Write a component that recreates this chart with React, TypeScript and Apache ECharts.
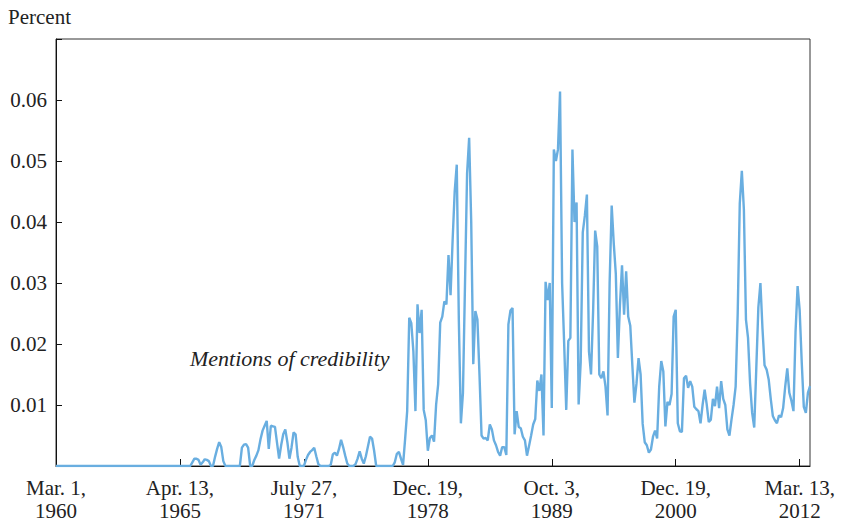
import React, { useEffect, useRef } from "react";
import * as echarts from "echarts";

// Tick labels at every 60th meeting
const tickLabels = [
  "Mar. 1,\n1960",
  "Apr. 13,\n1965",
  "July 27,\n1971",
  "Dec. 19,\n1978",
  "Oct. 3,\n1989",
  "Dec. 19,\n2000",
  "Mar. 13,\n2012",
];
const tickEvery = 60;

// Mentions of credibility (percent), by meeting, in six segments
const seg1960 = [
  0, 0, 0, 0, 0, 0, 0, 0, 0, 0, 0, 0, 0, 0, 0, 0, 0, 0, 0, 0,
  0, 0, 0, 0, 0, 0, 0, 0, 0, 0, 0, 0, 0, 0, 0, 0, 0, 0, 0, 0,
  0, 0, 0, 0, 0, 0, 0, 0, 0, 0, 0, 0, 0, 0, 0, 0, 0, 0, 0, 0,
];
const seg1965 = [
  0, 0, 0, 0, 0, 0, 0.0006, 0.0012, 0.0012, 0.001,
  0.0002, 0.0006, 0.0011, 0.001, 0.0008, 0, 0, 0.0015, 0.0028, 0.0039,
  0.0031, 0.0008, 0, 0, 0, 0, 0, 0, 0, 0,
  0.003, 0.0035, 0.0036, 0.003, 0, 0, 0.001, 0.0017, 0.0026, 0.0044,
  0.0058, 0.0066, 0.0074, 0.0028, 0.0066, 0.0065, 0.0064, 0.0038, 0.0012, 0.0034,
  0.0052, 0.006, 0.0039, 0.0012, 0.003, 0.0055, 0.0052, 0.0015, 0, 0,
];
const seg1971 = [
  0, 0.001, 0.0018, 0.0023, 0.0026, 0.003, 0.0016, 0.0003, 0, 0,
  0, 0, 0, 0.0002, 0.0019, 0.0022, 0.0017, 0.0028, 0.0043, 0.0031,
  0.0017, 0.0004, 0, 0, 0, 0.0003, 0.0012, 0.0024, 0.0012, 0.0004,
  0.0016, 0.0032, 0.0048, 0.0045, 0.0025, 0, 0, 0, 0, 0,
  0, 0, 0, 0, 0.0006, 0.002, 0.0023, 0.0012, 0.0002, 0.0044,
  0.009, 0.0243, 0.0234, 0.0188, 0.009, 0.0265, 0.0218, 0.0256, 0.0092, 0.0075,
];
const seg1978 = [
  0.0025, 0.0046, 0.005, 0.004, 0.01, 0.0134, 0.0235, 0.0245, 0.027, 0.0265,
  0.0346, 0.028, 0.037, 0.045, 0.0494, 0.024, 0.007, 0.012, 0.03, 0.048,
  0.0538, 0.04, 0.0167, 0.0254, 0.024, 0.015, 0.005, 0.0045, 0.0046, 0.0042,
  0.0068, 0.006, 0.0042, 0.0034, 0.0023, 0.0017, 0.0031, 0.0031, 0.0018, 0.0232,
  0.0255, 0.0259, 0.0052, 0.009, 0.0064, 0.0062, 0.0048, 0.0042, 0.0017, 0.0033,
  0.005, 0.0068, 0.0077, 0.014, 0.0123, 0.015, 0.005, 0.0302, 0.0272, 0.03,
];
const seg1989 = [
  0.0095, 0.0519, 0.05, 0.0519, 0.0614, 0.03, 0.02, 0.0092, 0.0205, 0.021,
  0.0519, 0.04, 0.0432, 0.0101, 0.017, 0.0383, 0.041, 0.0445, 0.0188, 0.015,
  0.0253, 0.0386, 0.036, 0.015, 0.0144, 0.0155, 0.013, 0.0083, 0.03, 0.0427,
  0.0365, 0.0315, 0.0177, 0.0264, 0.0329, 0.0248, 0.0319, 0.0245, 0.023, 0.0165,
  0.0104, 0.0135, 0.0177, 0.015, 0.0069, 0.0039, 0.0034, 0.0022, 0.0027, 0.0048,
  0.0058, 0.0045, 0.013, 0.0172, 0.0155, 0.0065, 0.0105, 0.01, 0.0118, 0.0245,
];
const seg2000 = [
  0.0256, 0.007, 0.0057, 0.0056, 0.0144, 0.0148, 0.0128, 0.0139, 0.013, 0.0097,
  0.0093, 0.009, 0.007, 0.01, 0.0125, 0.0101, 0.0072, 0.0076, 0.011, 0.0098,
  0.013, 0.0095, 0.0139, 0.011, 0.01, 0.006, 0.005, 0.0076, 0.01, 0.013,
  0.025, 0.043, 0.0484, 0.042, 0.024, 0.021, 0.0135, 0.0087, 0.0063, 0.016,
  0.026, 0.03, 0.0225, 0.0165, 0.0158, 0.0142, 0.011, 0.0082, 0.0075, 0.007,
  0.0083, 0.008, 0.0095, 0.013, 0.016, 0.012, 0.0107, 0.009, 0.022, 0.0295,
  0.0255, 0.017, 0.0097, 0.0087, 0.012, 0.0131,
];

const values = [...seg1960, ...seg1965, ...seg1971, ...seg1978, ...seg1989, ...seg2000];
const meetings = values.map((_, i) => String(i));

const FONT = "Liberation Serif";

export default function App() {
  const ref = useRef<HTMLDivElement>(null);
  useEffect(() => {
    if (!ref.current) return;
    const chart = echarts.init(ref.current, undefined, { renderer: "svg" });
    chart.setOption({
      animation: false,
      backgroundColor: "#ffffff",
      textStyle: { fontFamily: FONT },
      grid: {
        left: 56,
        right: 33,
        top: 39,
        bottom: 53,
        show: true,
        borderColor: "#333",
        borderWidth: 1,
        backgroundColor: "transparent",
      },
      graphic: [
        {
          type: "text",
          left: 8,
          top: 6,
          style: { text: "Percent", font: `21px '${FONT}'`, fill: "#222" },
        },
        {
          type: "text",
          left: 190,
          top: 347,
          style: {
            text: "Mentions of credibility",
            font: `italic 22px '${FONT}'`,
            fill: "#222",
          },
        },
      ],
      xAxis: {
        type: "category",
        data: meetings,
        boundaryGap: false,
        axisLine: { show: true, lineStyle: { color: "#111", width: 1 } },
        axisTick: {
          show: true,
          inside: true,
          length: 7,
          interval: (i: number) => i % tickEvery === 0,
          lineStyle: { color: "#111" },
        },
        axisLabel: {
          interval: (i: number) => i % tickEvery === 0,
          formatter: (_v: string, i: number) => tickLabels[i / tickEvery] ?? "",
          fontFamily: FONT,
          fontSize: 21,
          color: "#222",
          lineHeight: 23,
          margin: 10,
          hideOverlap: false,
        },
        splitLine: { show: false },
      },
      yAxis: {
        type: "value",
        min: 0,
        max: 0.07,
        interval: 0.01,
        axisLine: { show: true, lineStyle: { color: "#111", width: 1 } },
        axisTick: { show: true, inside: true, length: 6, lineStyle: { color: "#111" } },
        axisLabel: {
          formatter: (v: number) =>
            v <= 0.0001 || v >= 0.0699 ? "" : v.toFixed(2),
          fontFamily: FONT,
          fontSize: 21,
          color: "#222",
          margin: 9,
        },
        splitLine: { show: false },
      },
      series: [
        {
          type: "line",
          data: values,
          symbol: "none",
          lineStyle: { color: "#69aee0", width: 2.4 },
          itemStyle: { color: "#69aee0" },
          z: 3,
        },
      ],
    });
    return () => chart.dispose();
  }, []);
  return (
    <div
      ref={ref}
      style={{ position: "absolute", left: 0, top: 0, width: 843, height: 522, background: "#fff" }}
    />
  );
}
